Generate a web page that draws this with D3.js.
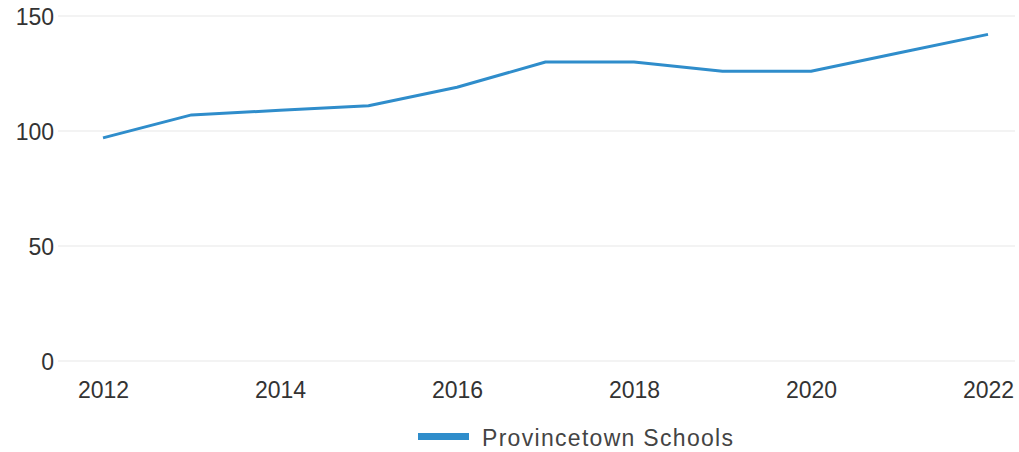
<!DOCTYPE html>
<html>
<head>
<meta charset="utf-8">
<script src="https://cdn.jsdelivr.net/npm/d3@7"></script>
<style>
  body { margin: 0; background: #fff; }
  svg text { font-family: "Liberation Sans", Arial, sans-serif; fill: #333; }
</style>
</head>
<body>
<div class="graph"></div>
<script>
// data
var years = [2012, 2013, 2014, 2015, 2016, 2017, 2018, 2019, 2020, 2021, 2022];
var values = [97, 107, 109, 111, 119, 130, 130, 126, 126, 134, 142];
var yTicks = [0, 50, 100, 150];
var xTicks = [2012, 2014, 2016, 2018, 2020, 2022];
var seriesName = "Provincetown Schools";

const width = 1019;
const height = 452;

var svg = d3.select(".graph")
    .append("svg")
    .attr("width", width)
    .attr("height", height);

var scaleX = d3.scaleLinear()
    .domain([2012, 2022])
    .range([103, 988]);

var scaleY = d3.scaleLinear()
    .domain([0, 150])
    .range([361, 16]);

// gridlines
svg.append("g")
    .selectAll("line")
    .data(yTicks)
    .enter()
    .append("line")
    .attr("x1", 58)
    .attr("x2", 1015)
    .attr("y1", d => scaleY(d))
    .attr("y2", d => scaleY(d))
    .attr("stroke", "#efefef")
    .attr("stroke-width", 1.5);

// y axis
const yAxis = d3.axisLeft(scaleY).tickValues(yTicks).tickSize(0).tickPadding(0);
var gy = svg.append("g")
    .attr("transform", "translate(54,0)")
    .call(yAxis);
gy.select(".domain").remove();
gy.selectAll("text").style("font-size", "23px").attr("dy", "0.36em");

// x axis
const xAxis = d3.axisBottom(scaleX).tickValues(xTicks).tickFormat(d3.format("d")).tickSize(0).tickPadding(0);
var gx = svg.append("g")
    .attr("transform", "translate(0,382)")
    .call(xAxis);
gx.select(".domain").remove();
gx.selectAll("text").style("font-size", "23px");

// line
var line = d3.line()
    .x((d, i) => scaleX(years[i]))
    .y(d => scaleY(d));

svg.append("path")
    .datum(values)
    .attr("d", line)
    .attr("fill", "none")
    .attr("stroke", "#2f8dcb")
    .attr("stroke-width", 3)
    .attr("stroke-linejoin", "round");

// legend
svg.append("rect")
    .attr("x", 418)
    .attr("y", 433)
    .attr("width", 51)
    .attr("height", 7)
    .attr("fill", "#2f8dcb");

svg.append("text")
    .attr("x", 482)
    .attr("y", 446)
    .attr("textLength", 251)
    .attr("lengthAdjust", "spacing")
    .style("font-size", "23px")
    .style("fill", "#444")
    .text(seriesName);
</script>
</body>
</html>
